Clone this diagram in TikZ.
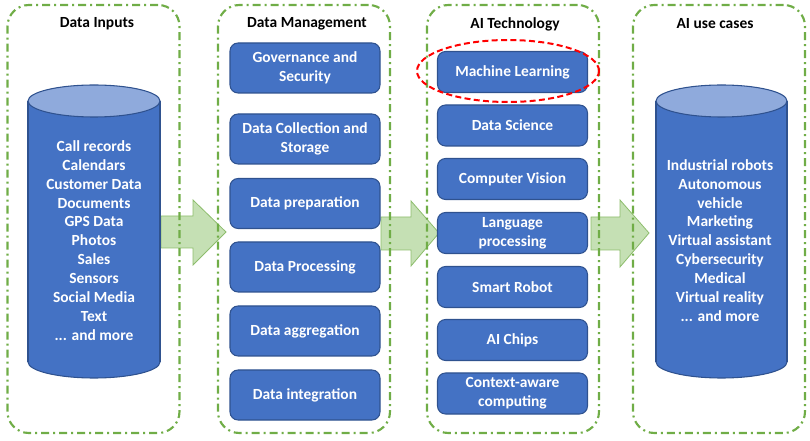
\documentclass[tikz,border=0pt]{standalone}
\usepackage{fontspec}
\setmainfont{Carlito}
\usetikzlibrary{shapes.geometric}
\definecolor{boxblue}{HTML}{4472C4}
\definecolor{boxedge}{HTML}{2F528F}
\definecolor{toplight}{HTML}{8FAADC}
\definecolor{cgreen}{HTML}{70AD47}
\definecolor{afill}{HTML}{C5E0B4}
\tikzset{
  container/.style={draw=cgreen, line width=1.6pt, rounded corners=16pt,
    dash pattern=on 6pt off 3pt on 1.5pt off 3pt, minimum width=172*0.75pt, minimum height=428*0.75pt, inner sep=0pt},
  title/.style={font=\fontsize{11.6}{13}\selectfont\bfseries, text=black},
  dmbox/.style={draw=boxedge, fill=boxblue, line width=0.8pt, rounded corners=6pt,
    minimum width=150*0.75pt, minimum height=50*0.75pt, inner sep=0pt, align=center,
    text=white, font=\fontsize{11.6}{14.2}\selectfont\bfseries},
  aibox/.style={dmbox, minimum height=41*0.75pt},
  blockarrow/.style={draw=cgreen!80, fill=afill, line width=0.6pt},
  cyltext/.style={align=center, text=white, font=\fontsize{11.6}{14.2}\selectfont\bfseries},
  cylbody/.style={fill=boxblue},
  cyledge/.style={draw=boxedge, line width=0.8pt},
}
\begin{document}
\begin{tikzpicture}[x=0.75pt,y=-0.75pt]
\useasboundingbox (0,0) rectangle (810,441);

% block arrows (under the containers)
\draw[blockarrow] (161,216) -- (193,216) -- (193,200) -- (226,232) -- (193,265) -- (193,248) -- (161,248) -- cycle;
\draw[blockarrow] (381,217) -- (411,217) -- (411,201) -- (439,233) -- (411,266) -- (411,250) -- (381,250) -- cycle;
\draw[blockarrow] (591,217) -- (620,217) -- (620,200) -- (649,233) -- (620,267) -- (620,250) -- (591,250) -- cycle;

% containers
\node[container] (c1) at (93.5,219) {};
\node[container] (c2) at (304,219) {};
\node[container] (c3) at (513,219) {};
\node[container] (c4) at (719,219) {};

% titles
\node[title] (t1) at (97,24) {Data Inputs};
\node[title] (t2) at (307,24) {Data Management};
\node[title] (t3) at (515,24) {AI Technology};
\node[title] (t4) at (715,24) {AI use cases};

% left cylinder
\fill[cylbody] (28,101) rectangle (160,362);
\fill[cylbody] (94,362) ellipse [x radius=66, y radius=16];
\draw[cyledge] (28,101) -- (28,362);
\draw[cyledge] (160,101) -- (160,362);
\begin{scope}
  \clip (0,362) rectangle (810,400);
  \draw[cyledge] (94,362) ellipse [x radius=66, y radius=16];
\end{scope}
\draw[cyledge, fill=toplight] (94,101) ellipse [x radius=66, y radius=16];
\node[cyltext] (inputs) at (94,240.5) {Call records\\Calendars\\Customer Data\\Documents\\GPS Data\\Photos\\Sales\\Sensors\\Social Media\\Text\\... and more};

% right cylinder
\fill[cylbody] (656,101) rectangle (787,362);
\fill[cylbody] (721.5,362) ellipse [x radius=65.5, y radius=16];
\draw[cyledge] (656,101) -- (656,362);
\draw[cyledge] (787,101) -- (787,362);
\begin{scope}
  \clip (0,362) rectangle (810,400);
  \draw[cyledge] (721.5,362) ellipse [x radius=65.5, y radius=16];
\end{scope}
\draw[cyledge, fill=toplight] (721.5,101) ellipse [x radius=65.5, y radius=16];
\node[cyltext] (uses) at (720,240.5) {Industrial robots\\Autonomous\\vehicle\\Marketing\\Virtual assistant\\Cybersecurity\\Medical\\Virtual reality\\... and more};

% data management boxes
\node[dmbox] (gov) at (305,68) {Governance and\\Security};
\node[dmbox] (coll) at (305,139) {Data Collection and\\Storage};
\node[dmbox] (prep) at (305,203.5) {Data preparation};
\node[dmbox] (proc) at (305,267) {Data Processing};
\node[dmbox] (aggr) at (305,331) {Data aggregation};
\node[dmbox] (integ) at (305,395) {Data integration};

% AI technology boxes
\node[aibox] (ml) at (512.5,72) {Machine Learning};
\node[aibox] (ds) at (512.5,125.5) {Data Science};
\node[aibox] (cv) at (512.5,179) {Computer Vision};
\node[aibox] (lp) at (512.5,233) {Language\\processing};
\node[aibox] (sr) at (512.5,287) {Smart Robot};
\node[aibox] (chips) at (512.5,340) {AI Chips};
\node[aibox] (cac) at (512.5,393.5) {Context-aware\\computing};

% highlight
\node[ellipse, draw=red, line width=1.5pt, dash pattern=on 4.5pt off 2.5pt,
  minimum width=182*0.75pt, minimum height=62*0.75pt, inner sep=0pt] (hl) at (508,71) {};
\end{tikzpicture}
\end{document}
